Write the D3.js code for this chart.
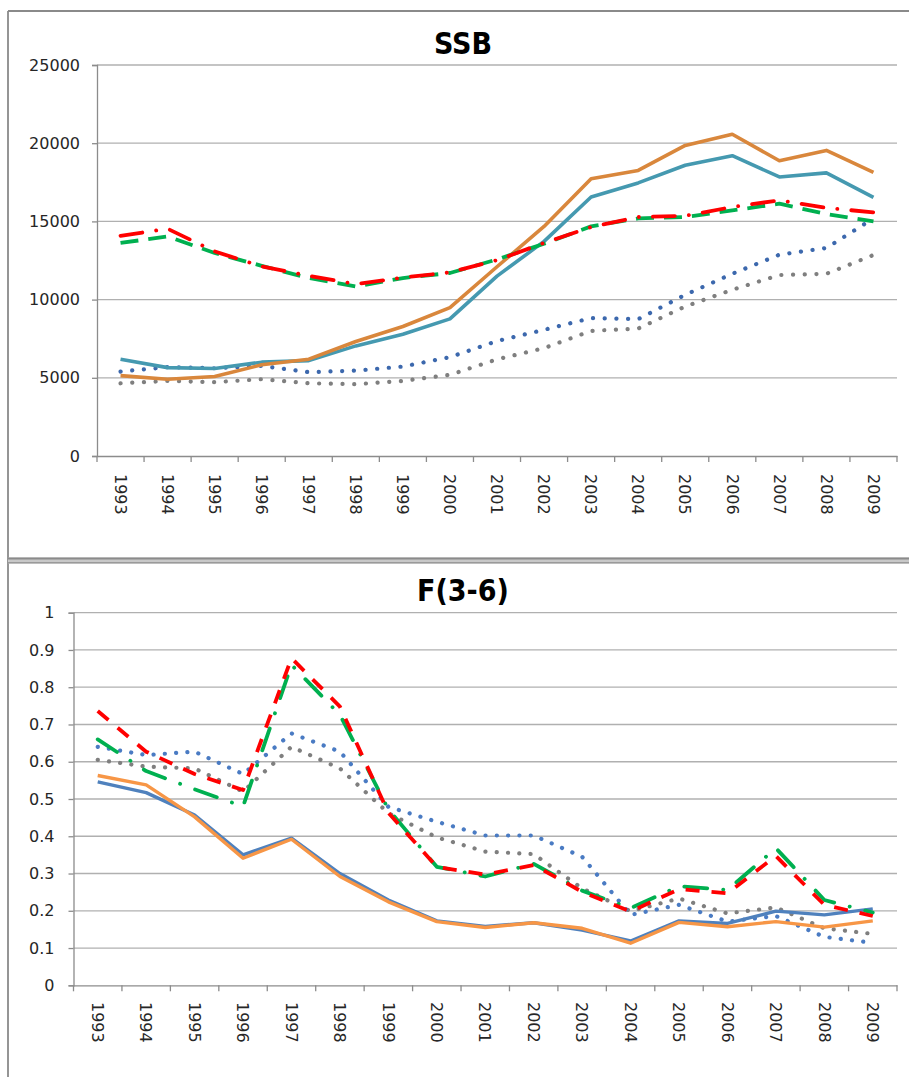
<!DOCTYPE html>
<html><head><meta charset="utf-8">
<script src="https://cdn.jsdelivr.net/npm/d3@7"></script>
<style>html,body{margin:0;padding:0;background:#fff;}svg{display:block;}</style>
</head><body>
<script>
const years = ["1993","1994","1995","1996","1997","1998","1999","2000","2001","2002","2003","2004","2005","2006","2007","2008","2009"];

// SSB panel
const ssbTicks = [0,5000,10000,15000,20000,25000];
const ssbTeal   = [6190,5650,5590,6000,6100,7040,7790,8770,11500,13720,16560,17460,18590,19200,17840,18100,16540];
const ssbOrange = [5140,4910,5080,5830,6190,7320,8280,9490,12100,14680,17730,18260,19860,20570,18880,19540,18130];
const ssbRed    = [14080,14530,13080,12120,11520,10990,11410,11740,12520,13620,14640,15280,15360,15920,16350,15860,15580];
const ssbGreen  = [13620,14040,12980,12160,11380,10840,11380,11700,12570,13570,14680,15190,15280,15700,16130,15470,15000];
const ssbBlueDot= [5400,5680,5610,5760,5360,5460,5720,6320,7350,8070,8820,8750,10310,11650,12870,13300,15190];
const ssbGrayDot= [4650,4800,4720,4910,4650,4590,4800,5190,6180,6900,8000,8150,9560,10630,11570,11650,12850];

// F(3-6) panel
const fTicks = [0,0.1,0.2,0.3,0.4,0.5,0.6,0.7,0.8,0.9,1];
const fBlue    = [0.546,0.517,0.457,0.350,0.395,0.300,0.229,0.173,0.158,0.168,0.148,0.119,0.173,0.166,0.199,0.189,0.205];
const fOrange  = [0.563,0.538,0.452,0.341,0.392,0.292,0.224,0.171,0.155,0.168,0.153,0.113,0.169,0.157,0.171,0.156,0.173];
const fRed     = [0.736,0.627,0.567,0.524,0.878,0.748,0.463,0.318,0.297,0.323,0.251,0.198,0.258,0.247,0.347,0.216,0.186];
const fGreen   = [0.660,0.575,0.526,0.480,0.860,0.726,0.472,0.318,0.292,0.326,0.254,0.207,0.266,0.256,0.368,0.229,0.195];
const fBlueDot = [0.640,0.618,0.627,0.567,0.676,0.627,0.479,0.439,0.402,0.402,0.345,0.189,0.216,0.171,0.186,0.130,0.114];
const fGrayDot = [0.605,0.587,0.582,0.520,0.640,0.582,0.462,0.397,0.359,0.352,0.260,0.199,0.233,0.193,0.209,0.153,0.138];

const W = 909, H = 1077;
const svg = d3.select("body").append("svg").attr("width", W).attr("height", H);
svg.append("rect").attr("width", W).attr("height", H).attr("fill", "#fff");

// frames
const fc = "#8a8a8a";
svg.append("line").attr("x1",8).attr("x2",W).attr("y1",11).attr("y2",11).attr("stroke",fc).attr("stroke-width",1.8);
svg.append("line").attr("x1",8).attr("x2",8).attr("y1",11).attr("y2",H).attr("stroke",fc).attr("stroke-width",1.8);
svg.append("rect").attr("x",8).attr("y",557.5).attr("width",W).attr("height",6).attr("fill","#c8c8c8");
svg.append("line").attr("x1",8).attr("x2",W).attr("y1",558.5).attr("y2",558.5).attr("stroke",fc).attr("stroke-width",1.8);
svg.append("line").attr("x1",8).attr("x2",W).attr("y1",562.8).attr("y2",562.8).attr("stroke","#9a9a9a").attr("stroke-width",1.4);

function panel(cfg) {
  const g = svg.append("g");
  const x = d3.scaleBand().domain(years).range([cfg.x0, cfg.x1]);
  const y = d3.scaleLinear().domain([0, cfg.max]).range([cfg.y0, cfg.y1]);

  // gridlines
  g.append("g").selectAll("line").data(cfg.ticks.slice(1)).join("line")
    .attr("x1", cfg.x0).attr("x2", cfg.x1)
    .attr("y1", d => y(d)).attr("y2", d => y(d))
    .attr("stroke", "#b0b0b0").attr("stroke-width", 1.3);

  // y axis
  const ya = g.append("g").attr("transform", `translate(${cfg.x0},0)`)
    .call(d3.axisLeft(y).tickValues(cfg.ticks).tickSize(5).tickPadding(cfg.ypad).tickFormat(cfg.fmt));
  ya.select(".domain").attr("stroke", "#8c8c8c").attr("stroke-width", 1.3);
  ya.selectAll(".tick line").attr("stroke", "#8c8c8c").attr("stroke-width", 1.3);
  ya.selectAll("text").attr("font-family", "DejaVu Sans").attr("font-size", 16).attr("fill", "#262626");

  // x axis
  const xa = g.append("g").attr("transform", `translate(0,${cfg.y0})`)
    .call(d3.axisBottom(x).tickSize(0).tickFormat(""));
  xa.select(".domain").attr("stroke", "#8c8c8c").attr("stroke-width", 1.3);
  const bounds = years.map(d => x(d)).concat([cfg.x1]);
  g.append("g").selectAll("line").data(bounds).join("line")
    .attr("x1", d => d).attr("x2", d => d).attr("y1", cfg.y0).attr("y2", cfg.y0 + 6)
    .attr("stroke", "#8c8c8c").attr("stroke-width", 1.3);
  g.append("g").selectAll("text").data(years).join("text")
    .attr("transform", d => `translate(${x(d) + x.bandwidth()/2},${cfg.labY}) rotate(90)`)
    .attr("dy", "0.36em").attr("text-anchor", "start")
    .attr("font-family", "DejaVu Sans").attr("font-size", 16).attr("fill", "#262626")
    .text(d => d);

  // title
  g.append("text").attr("x", cfg.tx).attr("y", cfg.ty).attr("text-anchor", "middle")
    .attr("font-family", "'Liberation Sans Narrow','DejaVu Sans Condensed',sans-serif")
    .attr("font-weight", "bold").attr("font-size", 30).attr("fill", "#000")
    .text(cfg.title);

  const line = d3.line().x((d, i) => x(years[i]) + x.bandwidth()/2).y(d => y(d));
  cfg.series.forEach(s => {
    g.append("path").datum(s.v).attr("d", line).attr("fill", "none")
      .attr("stroke", s.c).attr("stroke-width", s.w)
      .attr("stroke-dasharray", s.dash || null)
      .attr("stroke-linecap", s.cap || "butt")
      .attr("stroke-linejoin", "round");
  });
}

panel({
  title: "SSB", tx: 463, ty: 54,
  x0: 97, x1: 897, y0: 456, y1: 65, max: 25000, ticks: ssbTicks, ypad: 12,
  fmt: d3.format("d"), labY: 474,
  series: [
    {v: ssbGrayDot, c: "#7f7f7f", w: 4.2, dash: "0.1 11.6", cap: "round"},
    {v: ssbBlueDot, c: "#3c68ad", w: 4.2, dash: "0.1 11.6", cap: "round"},
    {v: ssbTeal, c: "#4599b0", w: 3.6},
    {v: ssbOrange, c: "#d9873c", w: 3.6},
    {v: ssbGreen, c: "#00b050", w: 3.8, dash: "18 10"},
    {v: ssbRed, c: "#ff0000", w: 3.8, dash: "22 14 0.1 14", cap: "round"}
  ]
});

panel({
  title: "F(3-6)", tx: 463, ty: 601,
  x0: 73.5, x1: 897, y0: 985.3, y1: 612.7, max: 1, ticks: fTicks, ypad: 14,
  fmt: d => d === 0 ? "0" : d === 1 ? "1" : d3.format(".1f")(d), labY: 1002,
  series: [
    {v: fGrayDot, c: "#7f7f7f", w: 4.2, dash: "0.1 11.2", cap: "round"},
    {v: fBlueDot, c: "#4a7bc3", w: 4.2, dash: "0.1 11.2", cap: "round"},
    {v: fBlue, c: "#4f81bd", w: 3.4},
    {v: fOrange, c: "#f79646", w: 3.4},
    {v: fGreen, c: "#00b050", w: 3.8, dash: "23 16 0.1 16", cap: "round"},
    {v: fRed, c: "#ff0000", w: 3.8, dash: "14 12"}
  ]
});
</script>
</body></html>
